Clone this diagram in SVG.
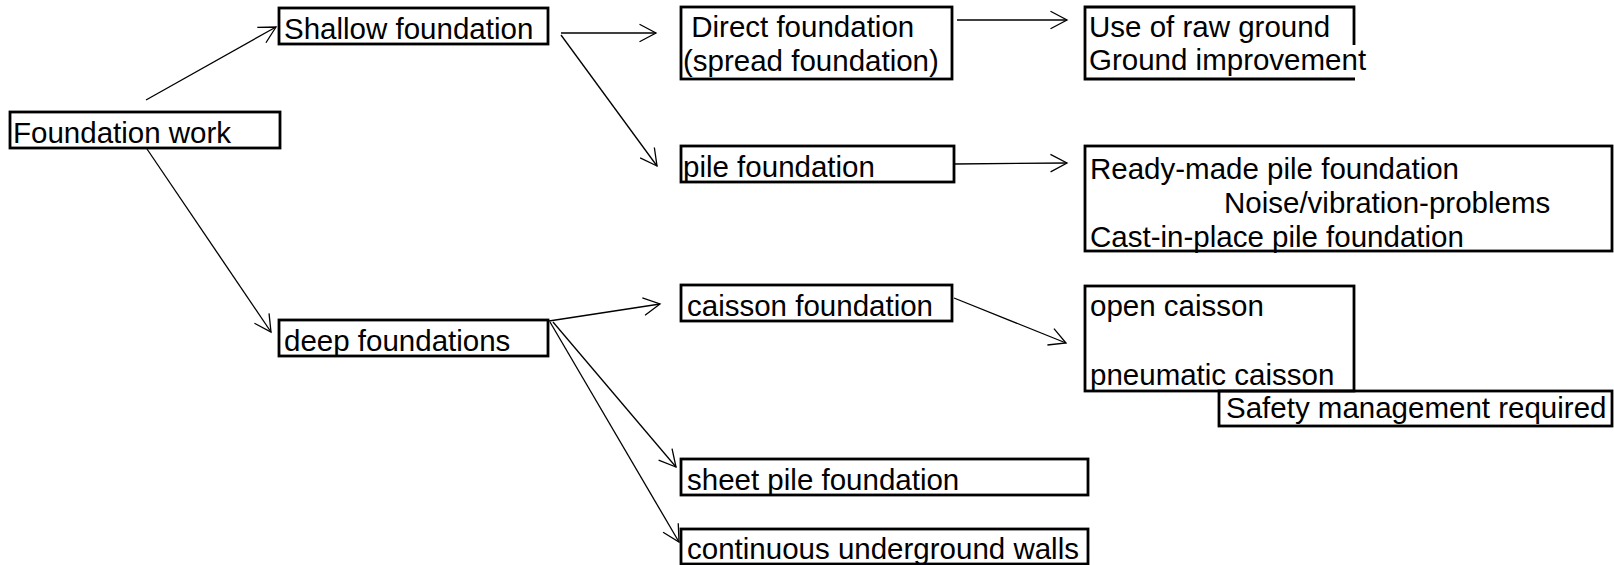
<svg xmlns="http://www.w3.org/2000/svg" width="1614" height="565" viewBox="0 0 1614 565">
<style>
.box{fill:none;stroke:#000;stroke-width:2.8}
.t{font-family:"Liberation Sans",Arial,sans-serif;font-size:29.5px;fill:#000}
.c{fill:none;stroke:#000;stroke-width:1.3}
</style>
<defs>
<marker id="arr" viewBox="-20 -11 22 22" refX="0" refY="0" markerWidth="22" markerHeight="22" markerUnits="userSpaceOnUse" orient="auto" overflow="visible">
<path d="M-16.5,-8.8 L0,0 L-16.5,8.8" fill="none" stroke="#000" stroke-width="1.3"/>
</marker>
</defs>
<rect width="1614" height="565" fill="#fff"/>
<g id="connectors" class="c" marker-end="url(#arr)">
<line x1="146" y1="100" x2="276" y2="27"/>
<line x1="147" y1="149" x2="271" y2="332"/>
<line x1="561" y1="33" x2="656" y2="33"/>
<line x1="561" y1="35" x2="657" y2="166"/>
<line x1="957" y1="20" x2="1067" y2="20"/>
<line x1="954" y1="164" x2="1067" y2="163"/>
<line x1="549" y1="321" x2="660" y2="304"/>
<line x1="553" y1="322" x2="676" y2="467"/>
<line x1="550" y1="322" x2="679" y2="542"/>
<line x1="954" y1="298" x2="1066" y2="343"/>
</g>
<g id="n-foundation"><rect class="box" x="10" y="112" width="270" height="36"/><text class="t" x="13" y="143">Foundation work</text></g>
<g id="n-shallow"><rect class="box" x="279" y="8" width="269" height="36"/><text class="t" x="284" y="39">Shallow foundation</text></g>
<g id="n-deep"><rect class="box" x="279" y="320" width="269" height="36"/><text class="t" x="284" y="351">deep foundations</text></g>
<g id="n-direct"><rect class="box" x="681" y="7" width="271" height="72"/><text class="t" x="683" y="37" xml:space="preserve"> Direct foundation</text><text class="t" x="683" y="71">(spread foundation)</text></g>
<g id="n-pile"><rect class="box" x="681" y="146" width="273" height="36"/><text class="t" x="683" y="177">pile foundation</text></g>
<g id="n-caisson"><rect class="box" x="681" y="285" width="271" height="36"/><text class="t" x="687" y="316">caisson foundation</text></g>
<g id="n-sheet"><rect class="box" x="681" y="459" width="407" height="36"/><text class="t" x="687" y="490">sheet pile foundation</text></g>
<g id="n-continuous"><rect class="box" x="681" y="529" width="407" height="35"/><text class="t" x="687" y="559">continuous underground walls</text></g>
<g id="n-ground"><path class="box" d="M1354,45 V7 H1085 V79 H1355"/><text class="t" x="1089" y="37">Use of raw ground</text><text class="t" x="1089" y="70">Ground improvement</text></g>
<g id="n-ready"><rect class="box" x="1085" y="146" width="527" height="105"/><text class="t" x="1090" y="179">Ready-made pile foundation</text><text class="t" x="1224" y="213">Noise/vibration-problems</text><text class="t" x="1090" y="247">Cast-in-place pile foundation</text></g>
<g id="n-open"><rect class="box" x="1085" y="286" width="269" height="105"/><text class="t" x="1090" y="316">open caisson</text><text class="t" x="1090" y="385">pneumatic caisson</text></g>
<g id="n-safety"><rect class="box" x="1219" y="391" width="393" height="35"/><text class="t" x="1226" y="418">Safety management required</text></g>
</svg>
